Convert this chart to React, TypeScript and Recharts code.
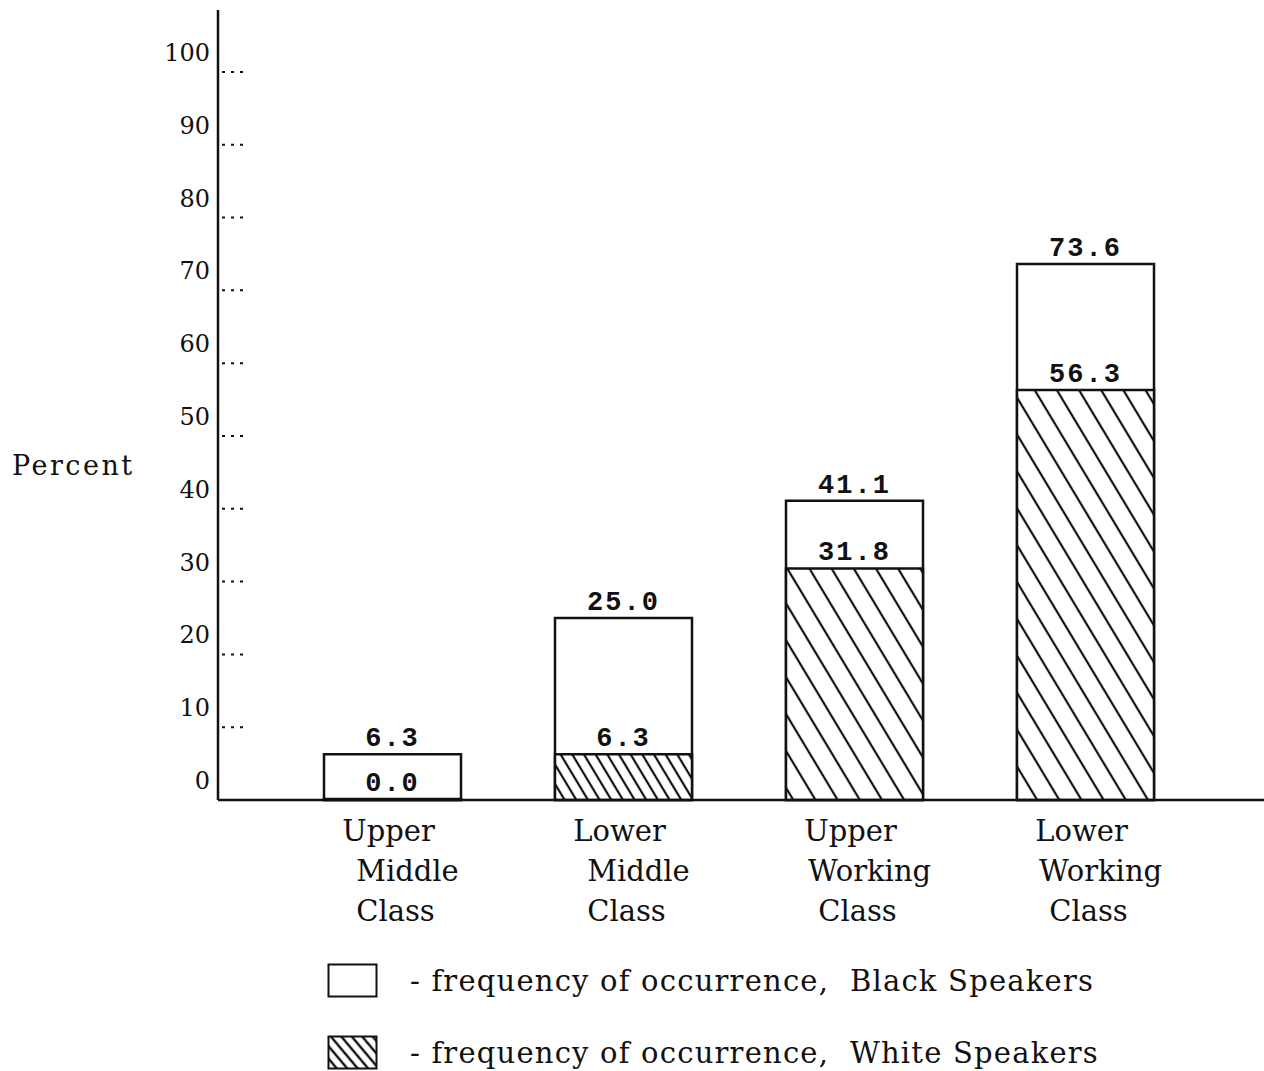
import React from 'react';
import { BarChart, Bar, XAxis, YAxis, Cell, LabelList, Label } from 'recharts';

const classes = ['Upper Middle Class', 'Lower Middle Class', 'Upper Working Class', 'Lower Working Class'];
const blackSpeakers = [6.3, 25.0, 41.1, 73.6];
const whiteSpeakers = [0.0, 6.3, 31.8, 56.3];
const yTicks = [0, 10, 20, 30, 40, 50, 60, 70, 80, 90, 100];

const data = classes.map((name, i) => ({
  name,
  black: blackSpeakers[i],
  white: whiteSpeakers[i],
}));

const ink = '#111';
const serif = '"DejaVu Serif", "Liberation Serif", serif';
const typewriter = '"Liberation Mono", "DejaVu Sans Mono", monospace';

// typed-in look of the original: the lines of each category label are not centred evenly
const lineShift = [-4, 15, 3];

const fmt = (v: any) => Number(v).toFixed(1);

// tick label sits above its tick mark, dashes point into the plot
const YTick = (props: any) => {
  const { x, y, payload } = props;
  return (
    <g>
      <line x1={x + 4} x2={x + 25} y1={y} y2={y} stroke={ink} strokeWidth={2} strokeDasharray="3 6" />
      <text x={x - 8} y={y - 11} textAnchor="end" fontFamily={serif} fontSize={24} fill={ink}>
        {payload.value}
      </text>
    </g>
  );
};

const XTick = (props: any) => {
  const { x, y, payload } = props;
  const lines = String(payload.value).split(' ');
  return (
    <g>
      {lines.map((ln, i) => (
        <text
          key={i}
          x={x + lineShift[i]}
          y={y + 41 + i * 40}
          textAnchor="middle"
          fontFamily={serif}
          fontSize={29}
          fill={ink}
        >
          {ln}
        </text>
      ))}
    </g>
  );
};

const Patterns = () => (
  <svg width={0} height={0} style={{ position: 'absolute' }}>
    <defs>
      <pattern id="hatch" patternUnits="userSpaceOnUse" width={19} height={12} patternTransform="rotate(-31)">
        <rect width={19} height={12} fill="#fff" />
        <line x1={2} y1={0} x2={2} y2={12} stroke={ink} strokeWidth={2.2} />
      </pattern>
      <pattern id="hatchDense" patternUnits="userSpaceOnUse" width={10} height={12} patternTransform="rotate(-31)">
        <rect width={10} height={12} fill="#fff" />
        <line x1={2} y1={0} x2={2} y2={12} stroke={ink} strokeWidth={2.2} />
      </pattern>
      <pattern id="hatchKey" patternUnits="userSpaceOnUse" width={8} height={12} patternTransform="rotate(-40)">
        <rect width={8} height={12} fill="#fff" />
        <line x1={2} y1={0} x2={2} y2={12} stroke={ink} strokeWidth={2.4} />
      </pattern>
    </defs>
  </svg>
);

const legendItems = [
  { label: '- frequency of occurrence,  Black Speakers', fill: '#fff', top: 963 },
  { label: '- frequency of occurrence,  White Speakers', fill: 'url(#hatchKey)', top: 1035 },
];

export default function App() {
  return (
    <div style={{ position: 'absolute', left: 0, top: 0, width: 1264, height: 1071, background: '#fff' }}>
      <Patterns />
      <BarChart
        width={1264}
        height={1071}
        data={data}
        margin={{ top: 10, right: 0, bottom: 131, left: 0 }}
      >
        <YAxis
          width={218}
          domain={[0, 108.5]}
          ticks={yTicks}
          interval={0}
          tickLine={false}
          tickSize={0}
          tickMargin={0}
          axisLine={{ stroke: ink, strokeWidth: 2.5 }}
          tick={<YTick />}
        >
          <Label
            value="Percent"
            position="insideLeft"
            offset={12}
            dy={60}
            fontFamily={serif}
            fontSize={27}
            letterSpacing={2.5}
            fill={ink}
          />
        </YAxis>
        <XAxis
          xAxisId="a"
          dataKey="name"
          height={140}
          padding={{ left: 59, right: 63 }}
          tickLine={false}
          tickSize={0}
          tickMargin={0}
          interval={0}
          axisLine={{ stroke: ink, strokeWidth: 2.5 }}
          tick={<XTick />}
        />
        <XAxis xAxisId="b" dataKey="name" hide padding={{ left: 59, right: 63 }} />
        <Bar
          xAxisId="a"
          dataKey="black"
          barSize={137}
          fill="#fff"
          stroke={ink}
          strokeWidth={2.5}
          isAnimationActive={false}
        >
          <LabelList
            dataKey="black"
            position="top"
            offset={8}
            formatter={fmt}
            fontFamily={typewriter}
            fontSize={27}
            fontWeight={700}
            letterSpacing={2}
            fill={ink}
          />
        </Bar>
        <Bar
          xAxisId="b"
          dataKey="white"
          barSize={137}
          minPointSize={1}
          stroke={ink}
          strokeWidth={2.5}
          isAnimationActive={false}
        >
          {data.map((d, i) => (
            <Cell key={d.name} fill={i === 1 ? 'url(#hatchDense)' : 'url(#hatch)'} />
          ))}
          <LabelList
            dataKey="white"
            position="top"
            offset={8}
            formatter={fmt}
            fontFamily={typewriter}
            fontSize={27}
            fontWeight={700}
            letterSpacing={2}
            fill={ink}
          />
        </Bar>
      </BarChart>
      {legendItems.map((it) => (
        <div
          key={it.label}
          style={{ position: 'absolute', left: 327, top: it.top, display: 'flex', alignItems: 'center' }}
        >
          <svg width={52} height={36}>
            <rect x={1.5} y={1.5} width={48} height={32} fill={it.fill} stroke={ink} strokeWidth={2} />
          </svg>
          <span
            style={{
              marginLeft: 31,
              fontFamily: serif,
              fontSize: 29,
              letterSpacing: 1.2,
              color: ink,
              whiteSpace: 'pre',
            }}
          >
            {it.label}
          </span>
        </div>
      ))}
    </div>
  );
}
